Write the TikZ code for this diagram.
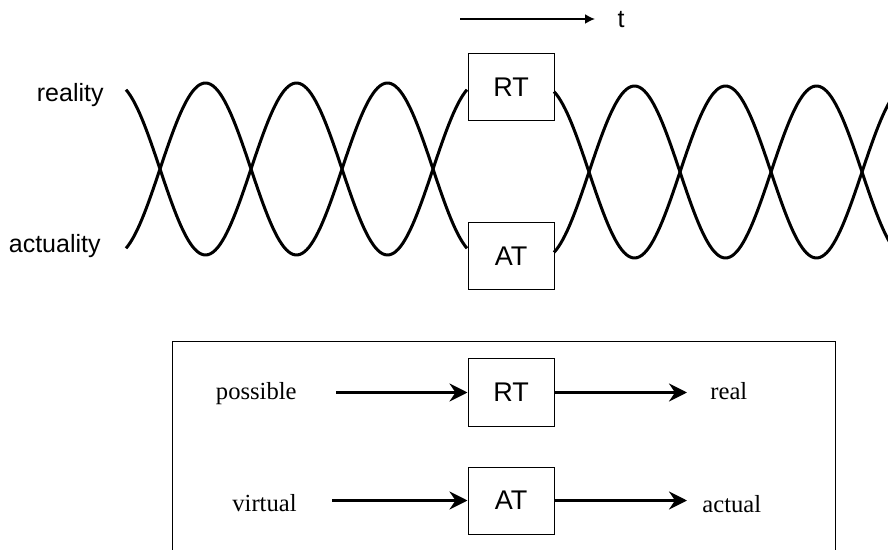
\documentclass[tikz,border=0pt]{standalone}
\usepackage{fontspec}
\setmainfont{Liberation Serif}
\setsansfont{Liberation Sans}
\usetikzlibrary{arrows.meta}

\begin{document}
\begin{tikzpicture}[x=0.5pt, y=-0.5pt,
    sans/.style={font=\fontsize{12.5}{14}\sffamily, inner sep=0pt},
    serif/.style={font=\fontsize{12.3}{14}\rmfamily, inner sep=0pt},
    tbox/.style={draw, line width=0.5pt, font=\fontsize{13.5}{15}\sffamily, minimum width=43pt, minimum height=33.5pt, inner sep=0pt},
    wave/.style={line width=1.5pt, line join=round},
    flow/.style={line width=1.6pt, -{Stealth[length=9pt, width=9pt, inset=3pt]}}]
        \useasboundingbox (0, 0) rectangle (888, 550);

        % Time axis
        \coordinate (tail) at (460, 19);
        \coordinate (head) at (595, 19);
        \node at (621, 20) (tlab) [sans] {t};
        \draw[line width=0.9pt, -{Latex[length=5pt, width=5pt]}] (tail) -- (head);

        % Transition boxes on the waves
        \node at (511, 87) (RT) [tbox] {RT};
        \node at (511, 256.5) (AT) [tbox] {AT};

        % Wave labels
        \node at (104, 102) (reality) [sans, anchor=base east] {reality};
        \node at (101, 253) (actuality) [sans, anchor=base east] {actuality};

        % Waves before the boxes
        \draw[wave] plot[domain=126:467, samples=150] (\x, {169-86*sin((\x-160)/91*180)});
        \draw[wave] plot[domain=126:467, samples=150] (\x, {169+86*sin((\x-160)/91*180)});

        % Waves after the boxes
        \draw[wave] plot[domain=554:890, samples=150] (\x, {172+86*sin((\x-589)/91*180)});
        \draw[wave] plot[domain=554:890, samples=150] (\x, {172-86*sin((\x-589)/91*180)});

        % Frame of the lower panel
        \draw[line width=0.5pt] (172, 560) |- (835, 342) -- (835, 560);

        % Lower boxes
        \node at (511, 392.5) (RT2) [tbox] {RT};
        \node at (511, 500.5) (AT2) [tbox] {AT};

        % Lower labels
        \node at (297, 400) (possible) [serif, anchor=base east] {possible};
        \node at (297, 511) (virtual) [serif, anchor=base east] {virtual};
        \node at (710, 400) (real) [serif, anchor=base west] {real};
        \node at (702, 512) (actual) [serif, anchor=base west] {actual};

        % Arrow ends
        \coordinate (p1) at (336, 392.5);
        \coordinate (p2) at (687, 392.5);
        \coordinate (v1) at (332, 500.5);
        \coordinate (v2) at (687, 500.5);

        % Arrows
        \draw[flow] (p1) -- (RT2.west);
        \draw[flow] (RT2.east) -- (p2);
        \draw[flow] (v1) -- (AT2.west);
        \draw[flow] (AT2.east) -- (v2);
    \end{tikzpicture}
\end{document}
